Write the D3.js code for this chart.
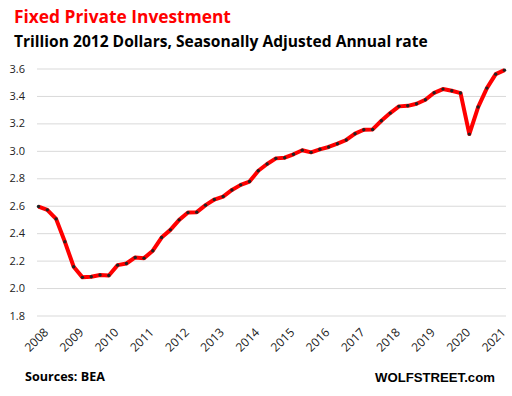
<!DOCTYPE html>
<meta charset="utf-8">
<style>
  body { margin: 0; background: #fff; }
  .grid line { stroke: #d9d9d9; stroke-width: 1px; }
  .tick text { font: 11px "Open Sans", sans-serif; fill: #222; }
  .xlab .tick text { font-size: 12px; }
  .line { fill: none; stroke: #ff0000; stroke-width: 4px; stroke-linejoin: round; }
  .dot { fill: #222; }
</style>
<body>
<script src="https://d3js.org/d3.v7.min.js"></script>
<script>
// quarterly values, 2008 Q1 .. 2021 Q2, trillion 2012 dollars
var years = ["2008","2009","2010","2011","2012","2013","2014","2015","2016","2017","2018","2019","2020","2021"];
var values = [
  2.594, 2.570, 2.504, 2.337,
  2.155, 2.078, 2.082, 2.095,
  2.092, 2.167, 2.179, 2.223,
  2.218, 2.272, 2.368, 2.424,
  2.497, 2.550, 2.553, 2.604,
  2.645, 2.667, 2.715, 2.752,
  2.776, 2.855, 2.904, 2.945,
  2.950, 2.975, 3.004, 2.989,
  3.011, 3.028, 3.052, 3.079,
  3.125, 3.154, 3.156, 3.219,
  3.275, 3.324, 3.328, 3.343,
  3.372, 3.423, 3.450, 3.438,
  3.421, 3.122, 3.319, 3.457,
  3.559, 3.588
];
var yTicks = [1.8, 2.0, 2.2, 2.4, 2.6, 2.8, 3.0, 3.2, 3.4, 3.6];

var W = 512, H = 396;
var svg = d3.select("body").append("svg")
    .attr("width", W).attr("height", H);

// x: one slot per quarter, points sit on the tick marks
var x = d3.scaleLinear()
    .domain([0, values.length - 1])
    .range([38.5, 504.5]);
var y = d3.scaleLinear()
    .domain([1.8, 3.6])
    .range([315.5, 68.5]);

// gridlines + y labels
var yAxis = svg.append("g")
    .attr("class", "grid")
    .attr("transform", "translate(37,0)")
    .call(d3.axisLeft(y).tickValues(yTicks).tickSize(-469).tickPadding(12)
        .tickFormat(d3.format(".1f")));
yAxis.select(".domain").remove();

// x labels at the first quarter of each year
var xAxis = svg.append("g")
    .attr("class", "xlab")
    .attr("transform", "translate(0,322)")
    .call(d3.axisBottom(x).tickValues(years.map(function(d, i) { return i * 4; }))
        .tickSize(0).tickFormat(function(d) { return years[d / 4]; }));
xAxis.select(".domain").remove();
xAxis.selectAll("text")
    .attr("text-anchor", "end")
    .attr("dy", "0.35em")
    .attr("transform", "translate(5,6) rotate(-45)");

var line = d3.line()
    .x(function(d, i) { return x(i); })
    .y(function(d) { return y(d); });

svg.append("path")
    .datum(values)
    .attr("class", "line")
    .attr("d", line);

svg.selectAll(".dot")
    .data(values)
    .enter().append("circle")
    .attr("class", "dot")
    .attr("r", 1.7)
    .attr("cx", function(d, i) { return x(i); })
    .attr("cy", function(d) { return y(d); });

// titles and footer, sized to the width they take in the original
function fit(sel, target) {
  var s = parseFloat(sel.style("font-size"));
  var w = sel.node().getComputedTextLength();
  sel.style("font-size", (s * target / w) + "px");
}
var t1 = svg.append("text").attr("x", 14).attr("y", 23)
    .style("font", "bold 18px 'Open Sans', sans-serif").style("fill", "#ff0000")
    .text("Fixed Private Investment");
fit(t1, 217);
var t2 = svg.append("text").attr("x", 14).attr("y", 47)
    .style("font", "bold 15px 'Open Sans', sans-serif").style("fill", "#000")
    .text("Trillion 2012 Dollars, Seasonally Adjusted Annual rate");
fit(t2, 414);
var s1 = svg.append("text").attr("x", 25).attr("y", 381)
    .style("font", "bold 12px 'Open Sans', sans-serif").style("fill", "#000")
    .text("Sources: BEA");
fit(s1, 80);
var s2 = svg.append("text").attr("x", 375).attr("y", 382)
    .style("font", "bold 13px 'Liberation Sans', Arial, sans-serif").style("fill", "#000")
    .text("WOLFSTREET.com");
fit(s2, 120);
</script>
</body>
